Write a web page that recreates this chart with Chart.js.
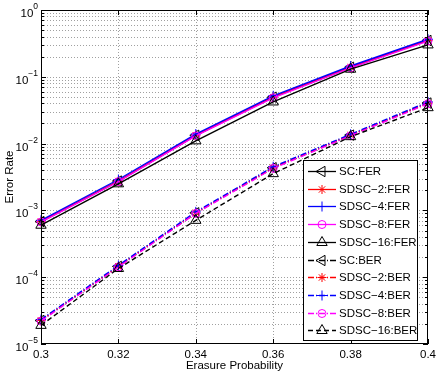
<!DOCTYPE html>
<html>
<head>
<meta charset="utf-8">
<script src="https://cdn.jsdelivr.net/npm/chart.js@4/dist/chart.umd.min.js"></script>
<style>
  html, body { margin: 0; padding: 0; background: #fff; }
  canvas { display: block; }
</style>
</head>
<body>
<canvas id="chart" width="436" height="374"></canvas>
<script>
// Data
const erasureProb = [0.3, 0.32, 0.34, 0.36, 0.38, 0.4];

const ferSC     = [6.8e-4, 2.75e-3, 1.33e-2, 4.95e-2, 0.139, 0.350];
const ferSDSC2  = [6.8e-4, 2.75e-3, 1.33e-2, 4.95e-2, 0.139, 0.350];
const ferSDSC4  = [7.1e-4, 2.90e-3, 1.39e-2, 5.20e-2, 0.145, 0.365];
const ferSDSC8  = [6.7e-4, 2.70e-3, 1.30e-2, 4.85e-2, 0.136, 0.343];
const ferSDSC16 = [6.0e-4, 2.50e-3, 1.10e-2, 4.20e-2, 0.130, 0.300];

const berSC     = [2.25e-5, 1.45e-4, 9.2e-4, 4.35e-3, 1.34e-2, 4.05e-2];
const berSDSC2  = [2.25e-5, 1.45e-4, 9.2e-4, 4.35e-3, 1.34e-2, 4.05e-2];
const berSDSC4  = [2.32e-5, 1.50e-4, 9.5e-4, 4.50e-3, 1.38e-2, 4.20e-2];
const berSDSC8  = [2.20e-5, 1.42e-4, 9.0e-4, 4.25e-3, 1.31e-2, 3.95e-2];
const berSDSC16 = [1.90e-5, 1.35e-4, 7.1e-4, 3.55e-3, 1.27e-2, 3.45e-2];

const xTickValues = [0.3, 0.32, 0.34, 0.36, 0.38, 0.4];
const xTickLabels = ['0.3', '0.32', '0.34', '0.36', '0.38', '0.4'];
const yDecades = [-5, -4, -3, -2, -1, 0];

// Series styling
const series = [
    { label: 'SC:FER',       data: ferSC,     color: '#000000', marker: 'triangle', rot: -90, r: 6, dash: [] },
    { label: 'SDSC−2:FER',   data: ferSDSC2,  color: '#ff0000', marker: 'star',     rot: 0,   r: 4.5, dash: [] },
    { label: 'SDSC−4:FER',   data: ferSDSC4,  color: '#0000ff', marker: 'cross',    rot: 0,   r: 5, dash: [] },
    { label: 'SDSC−8:FER',   data: ferSDSC8,  color: '#ff00ff', marker: 'circle',   rot: 0,   r: 4, dash: [] },
    { label: 'SDSC−16:FER',  data: ferSDSC16, color: '#000000', marker: 'triangle', rot: 0,   r: 6, dash: [] },
    { label: 'SC:BER',       data: berSC,     color: '#000000', marker: 'triangle', rot: -90, r: 6, dash: [6, 2, 1, 2] },
    { label: 'SDSC−2:BER',   data: berSDSC2,  color: '#ff0000', marker: 'star',     rot: 0,   r: 4.5, dash: [6, 2, 1, 2] },
    { label: 'SDSC−4:BER',   data: berSDSC4,  color: '#0000ff', marker: 'cross',    rot: 0,   r: 5, dash: [6, 2, 1, 2] },
    { label: 'SDSC−8:BER',   data: berSDSC8,  color: '#ff00ff', marker: 'circle',   rot: 0,   r: 4, dash: [6, 2, 1, 2] },
    { label: 'SDSC−16:BER',  data: berSDSC16, color: '#000000', marker: 'triangle', rot: 0,   r: 6, dash: [5, 3] }
];

const FONT = 'Liberation Sans, Arial, sans-serif';

// Draw a marker for the legend (same shapes as Chart.js point styles)
function drawMarker(ctx, s, x, y) {
    ctx.save();
    ctx.strokeStyle = s.color;
    ctx.lineWidth = 1;
    ctx.setLineDash([]);
    ctx.beginPath();
    const r = s.r;
    if (s.marker === 'triangle') {
        let a = s.rot * Math.PI / 180;
        ctx.moveTo(x + Math.sin(a) * r, y - Math.cos(a) * r);
        for (let i = 1; i < 3; i++) {
            a += 2 * Math.PI / 3;
            ctx.lineTo(x + Math.sin(a) * r, y - Math.cos(a) * r);
        }
        ctx.closePath();
    } else if (s.marker === 'circle') {
        ctx.arc(x, y, r, 0, Math.PI * 2);
    } else if (s.marker === 'cross') {
        ctx.moveTo(x - r, y); ctx.lineTo(x + r, y);
        ctx.moveTo(x, y - r); ctx.lineTo(x, y + r);
    } else if (s.marker === 'star') {
        ctx.moveTo(x - r, y); ctx.lineTo(x + r, y);
        ctx.moveTo(x, y - r); ctx.lineTo(x, y + r);
        const d = r * Math.SQRT1_2;
        ctx.moveTo(x - d, y - d); ctx.lineTo(x + d, y + d);
        ctx.moveTo(x - d, y + d); ctx.lineTo(x + d, y - d);
    }
    ctx.stroke();
    ctx.restore();
}

const matlabAxes = {
    id: 'matlabAxes',
    beforeDatasetsDraw(chart) {
        const { ctx, chartArea: a, scales: { x, y } } = chart;
        ctx.save();
        ctx.strokeStyle = '#a0a0a0';
        ctx.lineWidth = 1;
        ctx.setLineDash([1, 2]);
        // vertical grid
        xTickValues.forEach(v => {
            const px = Math.round(x.getPixelForValue(v)) + 0.5;
            if (px <= a.left + 1 || px >= a.right - 1) return;
            ctx.beginPath(); ctx.moveTo(px, a.top); ctx.lineTo(px, a.bottom); ctx.stroke();
        });
        // horizontal grid, log minor lines
        for (let e = -5; e < 0; e++) {
            for (let k = 1; k < 10; k++) {
                const py = Math.round(y.getPixelForValue(k * Math.pow(10, e))) + 0.5;
                if (py >= a.bottom - 1 || py <= a.top + 1) continue;
                ctx.beginPath(); ctx.moveTo(a.left, py); ctx.lineTo(a.right, py); ctx.stroke();
            }
        }
        ctx.restore();
    },
    afterDatasetsDraw(chart) {
        const { ctx, chartArea: a, scales: { x, y } } = chart;
        ctx.save();
        ctx.setLineDash([]);
        ctx.strokeStyle = '#000';
        ctx.lineWidth = 1;
        // frame
        ctx.strokeRect(Math.round(a.left) + 0.5, Math.round(a.top) + 0.5,
                       Math.round(a.right - a.left) - 1, Math.round(a.bottom - a.top) - 1);
        // tick marks inside
        ctx.beginPath();
        xTickValues.forEach(v => {
            const px = Math.round(x.getPixelForValue(v)) + 0.5;
            ctx.moveTo(px, a.bottom); ctx.lineTo(px, a.bottom - 5);
            ctx.moveTo(px, a.top); ctx.lineTo(px, a.top + 5);
        });
        for (let e = -5; e <= 0; e++) {
            for (let k = 1; k < 10; k++) {
                if (e === 0 && k > 1) break;
                const py = Math.round(y.getPixelForValue(k * Math.pow(10, e))) + 0.5;
                const len = k === 1 ? 5 : 3;
                ctx.moveTo(a.left, py); ctx.lineTo(a.left + len, py);
                ctx.moveTo(a.right, py); ctx.lineTo(a.right - len, py);
            }
        }
        ctx.stroke();

        // x tick labels
        ctx.fillStyle = '#000';
        ctx.font = '11.5px ' + FONT;
        ctx.textAlign = 'center';
        ctx.textBaseline = 'middle';
        xTickValues.forEach((v, i) => {
            ctx.fillText(xTickLabels[i], x.getPixelForValue(v), a.bottom + 11);
        });

        // y tick labels: 10^e
        yDecades.forEach(e => {
            const py = y.getPixelForValue(Math.pow(10, e));
            const expText = e === 0 ? '0' : '−' + Math.abs(e);
            ctx.font = '8.5px ' + FONT;
            const ew = ctx.measureText(expText).width;
            const right = 38;
            ctx.textAlign = 'left';
            ctx.textBaseline = 'alphabetic';
            ctx.fillText(expText, right - ew, py - 1);
            ctx.font = '11.5px ' + FONT;
            ctx.textAlign = 'right';
            ctx.fillText('10', right - ew, py + 7);
        });

        // axis titles
        ctx.font = '11.5px ' + FONT;
        ctx.textAlign = 'center';
        ctx.textBaseline = 'middle';
        ctx.fillText('Erasure Probability', (a.left + a.right) / 2, 366);
        ctx.save();
        ctx.translate(10, (a.top + a.bottom) / 2);
        ctx.rotate(-Math.PI / 2);
        ctx.fillText('Error Rate', 0, 0);
        ctx.restore();

        // legend
        const lx = 303, ly = 160, lw = 114, lh = 180;
        ctx.fillStyle = '#fff';
        ctx.fillRect(lx, ly, lw, lh);
        ctx.strokeStyle = '#000';
        ctx.strokeRect(lx + 0.5, ly + 0.5, lw, lh);
        series.forEach((s, i) => {
            const cy = Math.round(171 + i * 17.7) + 0.5;
            ctx.save();
            ctx.strokeStyle = s.color;
            ctx.lineWidth = 1.3;
            ctx.setLineDash(s.dash);
            ctx.beginPath(); ctx.moveTo(308, cy); ctx.lineTo(336, cy); ctx.stroke();
            ctx.restore();
            drawMarker(ctx, s, 322, cy);
            ctx.fillStyle = '#000';
            ctx.font = '11.5px ' + FONT;
            ctx.textAlign = 'left';
            ctx.textBaseline = 'middle';
            ctx.fillText(s.label, 339, cy);
        });
        ctx.restore();
    }
};

// later series are drawn on top, like the original plot
const datasets = series.map((s, i) => ({
    label: s.label,
    data: erasureProb.map((p, j) => ({ x: p, y: s.data[j] })),
    order: -i,
    showLine: true,
    borderColor: s.color,
    borderWidth: 1.4,
    borderDash: s.dash,
    pointStyle: s.marker,
    pointRotation: s.rot,
    pointRadius: s.r,
    pointBorderColor: s.color,
    pointBackgroundColor: 'rgba(0,0,0,0)',
    pointBorderWidth: 1,
    tension: 0,
    clip: false
}));

const chart = new Chart(document.getElementById('chart').getContext('2d'), {
    type: 'scatter',
    data: { datasets: datasets },
    options: {
        responsive: false,
        animation: false,
        devicePixelRatio: 1,
        layout: { padding: { left: 41, top: 10, right: 8, bottom: 30 } },
        plugins: {
            legend: { display: false },
            tooltip: { enabled: false }
        },
        scales: {
            x: { type: 'linear', min: 0.3, max: 0.4, display: false },
            y: { type: 'logarithmic', min: 1e-5, max: 1, display: false }
        }
    },
    plugins: [matlabAxes]
});
</script>
</body>
</html>
